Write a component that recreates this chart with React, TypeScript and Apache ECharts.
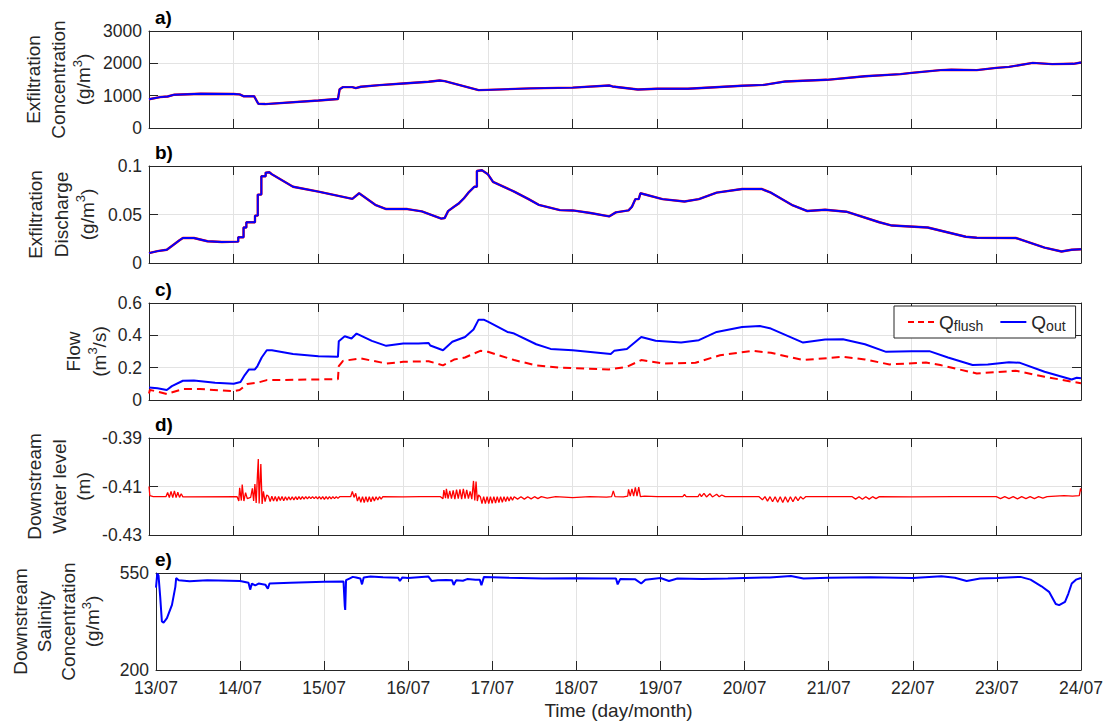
import React, { useEffect, useRef } from 'react';
import * as echarts from 'echarts';

// x = days since 13/07 00:00
const dayLabels = ['13/07', '14/07', '15/07', '16/07', '17/07', '18/07', '19/07', '20/07', '21/07', '22/07', '23/07', '24/07'];

const concData: [number, number][] = [
  [0, 890], [0.13, 955], [0.22, 975], [0.3, 1030], [0.61, 1060], [1.0, 1050], [1.07, 1040], [1.12, 980], [1.24, 985],
  [1.29, 750], [1.37, 740], [2.0, 850], [2.23, 895], [2.25, 1200], [2.29, 1265], [2.4, 1265], [2.44, 1235], [2.5, 1275],
  [2.72, 1325], [3.0, 1377], [3.3, 1430], [3.43, 1470], [3.49, 1450], [3.89, 1170], [4.0, 1180], [4.5, 1225], [5.0, 1250],
  [5.43, 1315], [5.47, 1285], [5.77, 1190], [6.0, 1212], [6.36, 1212], [7.0, 1305], [7.26, 1335], [7.51, 1440], [8.0, 1490],
  [8.45, 1600], [8.87, 1665], [9.0, 1705], [9.34, 1790], [9.47, 1800], [9.77, 1790], [10.0, 1860], [10.15, 1890],
  [10.43, 2015], [10.66, 1975], [10.91, 1985], [11.0, 2025],
];

const dischargeData: [number, number][] = [
  [0, 0.0102], [0.1, 0.0122], [0.21, 0.0136], [0.27, 0.0176], [0.36, 0.0234], [0.4, 0.0258], [0.53, 0.0258], [0.69, 0.0224],
  [0.86, 0.0217], [1.053, 0.022], [1.053, 0.0265], [1.116, 0.0265], [1.116, 0.0366], [1.149, 0.0366], [1.149, 0.042],
  [1.251, 0.042], [1.251, 0.0488], [1.284, 0.0488], [1.284, 0.0705], [1.326, 0.0705], [1.326, 0.0895], [1.377, 0.0895],
  [1.377, 0.0932], [1.42, 0.0935], [1.45, 0.0915], [1.7, 0.0786], [2.0, 0.0736], [2.4, 0.0661], [2.48, 0.0719], [2.67, 0.06],
  [2.8, 0.0556], [3.05, 0.0556], [3.22, 0.0532], [3.45, 0.0458], [3.49, 0.0464], [3.53, 0.0535], [3.6, 0.058], [3.66, 0.0617],
  [3.72, 0.067], [3.77, 0.0725], [3.84, 0.0786], [3.87, 0.0786], [3.87, 0.0949], [3.93, 0.0956], [4.0, 0.0915], [4.06, 0.0837],
  [4.31, 0.0736], [4.48, 0.0658], [4.6, 0.06], [4.85, 0.0545], [5.0, 0.0542], [5.21, 0.0515], [5.43, 0.048], [5.51, 0.0522],
  [5.66, 0.0542], [5.7, 0.058], [5.74, 0.0658], [5.78, 0.0658], [5.8, 0.0719], [6.06, 0.0658], [6.32, 0.0634], [6.49, 0.0658],
  [6.7, 0.0725], [7.0, 0.0763], [7.23, 0.0763], [7.34, 0.0725], [7.6, 0.0593], [7.77, 0.0536], [7.98, 0.0549], [8.23, 0.0529],
  [8.62, 0.042], [8.77, 0.0386], [9.19, 0.0366], [9.64, 0.0271], [9.77, 0.0261], [10.23, 0.0258], [10.57, 0.0159],
  [10.77, 0.0119], [10.89, 0.0136], [11, 0.0142],
];

const qFlushData: [number, number][] = [
  [0, 0.04], [0.01, 0.062], [0.05, 0.058], [0.21, 0.037], [0.4, 0.068], [0.6, 0.068], [1.0, 0.055], [1.07, 0.062], [1.16, 0.099],
  [1.28, 0.107], [1.39, 0.123], [2.0, 0.127], [2.23, 0.129], [2.24, 0.21], [2.29, 0.242], [2.5, 0.257], [2.8, 0.226], [3.0, 0.236],
  [3.3, 0.24], [3.47, 0.214], [3.6, 0.25], [3.73, 0.263], [3.91, 0.304], [4.0, 0.298], [4.31, 0.247], [4.57, 0.214], [4.85, 0.2],
  [5.0, 0.197], [5.43, 0.189], [5.64, 0.205], [5.81, 0.247], [6.06, 0.226], [6.45, 0.23], [6.74, 0.277], [7.13, 0.304],
  [7.34, 0.292], [7.72, 0.247], [8.19, 0.267], [8.45, 0.251], [8.74, 0.22], [9.17, 0.232], [9.34, 0.216], [9.77, 0.164],
  [10.23, 0.181], [10.57, 0.144], [11, 0.103],
];

const qOutData: [number, number][] = [
  [0, 0.078], [0.1, 0.072], [0.21, 0.062], [0.27, 0.086], [0.4, 0.119], [0.53, 0.121], [0.78, 0.107], [1.0, 0.101], [1.08, 0.111],
  [1.13, 0.154], [1.18, 0.189], [1.25, 0.189], [1.28, 0.21], [1.33, 0.263], [1.39, 0.308], [1.45, 0.308], [1.7, 0.284],
  [2.0, 0.271], [2.23, 0.267], [2.24, 0.364], [2.31, 0.394], [2.39, 0.38], [2.45, 0.411], [2.63, 0.366], [2.8, 0.335],
  [3.0, 0.349], [3.18, 0.349], [3.3, 0.353], [3.32, 0.337], [3.47, 0.308], [3.58, 0.36], [3.73, 0.39], [3.83, 0.436],
  [3.89, 0.497], [3.95, 0.497], [4.0, 0.485], [4.23, 0.421], [4.31, 0.411], [4.57, 0.345], [4.74, 0.316], [5.0, 0.308],
  [5.45, 0.284], [5.49, 0.304], [5.64, 0.316], [5.81, 0.39], [5.98, 0.366], [6.28, 0.355], [6.49, 0.37], [6.7, 0.421],
  [7.0, 0.452], [7.21, 0.458], [7.34, 0.442], [7.72, 0.355], [7.98, 0.374], [8.19, 0.376], [8.45, 0.345], [8.7, 0.298],
  [9.0, 0.302], [9.21, 0.302], [9.43, 0.263], [9.72, 0.216], [9.9, 0.22], [10.15, 0.234], [10.28, 0.23], [10.57, 0.175],
  [10.89, 0.127], [10.95, 0.138], [11, 0.134],
];

const levelData: [number, number][] = [
  [0, -0.41], [0.01, -0.4138], [0.05, -0.4142], [0.2, -0.4142],
  [0.22, -0.4125], [0.24, -0.4146], [0.26, -0.412], [0.28, -0.4146], [0.3, -0.4118], [0.32, -0.4146], [0.34, -0.4124],
  [0.36, -0.4145], [0.38, -0.413], [0.4, -0.4143],
  [1.04, -0.4142], [1.06, -0.416], [1.07, -0.4105], [1.09, -0.4158], [1.1, -0.4092], [1.12, -0.416], [1.14, -0.4125],
  [1.16, -0.415], [1.2, -0.4145], [1.22, -0.4108], [1.235, -0.416], [1.25, -0.409], [1.265, -0.4168], [1.28, -0.4053],
  [1.29, -0.3987], [1.3, -0.417], [1.32, -0.4007], [1.335, -0.4172], [1.35, -0.412], [1.37, -0.4162], [1.39, -0.4135],
  [1.41, -0.414], [1.43, -0.4162], [1.45, -0.414], [1.47, -0.416], [1.49, -0.4141], [1.51, -0.4161], [1.53, -0.4141],
  [1.55, -0.4158], [1.57, -0.4141], [1.59, -0.4159], [1.61, -0.4142], [1.63, -0.4157], [1.65, -0.4142], [1.67, -0.4156],
  [1.69, -0.4142], [1.71, -0.4155], [1.73, -0.4142], [1.75, -0.4154], [1.77, -0.4142], [1.79, -0.4153], [1.81, -0.4142],
  [1.83, -0.4152], [1.85, -0.4142], [1.87, -0.4151], [1.89, -0.4142], [1.91, -0.415], [1.93, -0.4142], [1.95, -0.415],
  [1.97, -0.4142], [1.99, -0.4151], [2.01, -0.4142], [2.03, -0.4152], [2.05, -0.4142], [2.07, -0.4153], [2.09, -0.4142],
  [2.11, -0.4152], [2.13, -0.4142], [2.15, -0.4151], [2.17, -0.4142], [2.19, -0.415], [2.21, -0.4142], [2.23, -0.4149],
  [2.25, -0.4142], [2.38, -0.4142], [2.4, -0.412], [2.42, -0.4145], [2.44, -0.4128], [2.46, -0.416], [2.48, -0.4142],
  [2.5, -0.4165], [2.52, -0.4142], [2.54, -0.4166], [2.56, -0.4142], [2.58, -0.4164], [2.6, -0.4142], [2.62, -0.4163],
  [2.64, -0.4142], [2.66, -0.416], [2.68, -0.4142], [2.7, -0.4156], [2.72, -0.4142], [2.74, -0.4152], [2.76, -0.4142],
  [3.0, -0.4143], [3.2, -0.4142], [3.44, -0.4142],
  [3.47, -0.415], [3.48, -0.4115], [3.5, -0.4148], [3.51, -0.411], [3.53, -0.415], [3.55, -0.4118], [3.57, -0.415],
  [3.59, -0.4116], [3.61, -0.4152], [3.63, -0.4113], [3.65, -0.415], [3.67, -0.4112], [3.69, -0.4152], [3.71, -0.411],
  [3.73, -0.415], [3.75, -0.4114], [3.77, -0.415], [3.79, -0.412], [3.81, -0.4152], [3.83, -0.4077], [3.845, -0.4158],
  [3.86, -0.408], [3.875, -0.416], [3.89, -0.4135],
  [3.91, -0.4142], [3.93, -0.417], [3.95, -0.4142], [3.97, -0.4171], [3.99, -0.4142], [4.01, -0.417], [4.03, -0.4142],
  [4.05, -0.4169], [4.07, -0.4142], [4.09, -0.4168], [4.11, -0.4142], [4.13, -0.4166], [4.15, -0.4142], [4.17, -0.4165],
  [4.19, -0.4142], [4.21, -0.4162], [4.23, -0.4142], [4.25, -0.416], [4.27, -0.4142], [4.29, -0.4157], [4.31, -0.4142],
  [4.35, -0.4152], [4.39, -0.4142], [4.43, -0.4152], [4.47, -0.4142], [4.51, -0.4151], [4.55, -0.4142], [4.59, -0.415],
  [4.63, -0.4142], [4.7, -0.4148], [4.8, -0.4142], [5.0, -0.4146], [5.2, -0.4142], [5.4, -0.4144],
  [5.46, -0.4142], [5.48, -0.4118], [5.5, -0.4142], [5.6, -0.4143], [5.65, -0.414], [5.66, -0.4112], [5.68, -0.414],
  [5.7, -0.411], [5.72, -0.414], [5.74, -0.4104], [5.76, -0.414], [5.78, -0.4103], [5.8, -0.4142], [5.85, -0.414],
  [6.0, -0.4142], [6.3, -0.4142], [6.32, -0.4133], [6.34, -0.4142],
  [6.48, -0.4142], [6.5, -0.413], [6.52, -0.4142], [6.55, -0.4128], [6.58, -0.4143], [6.62, -0.413], [6.65, -0.4143],
  [6.7, -0.4132], [6.73, -0.4142], [6.76, -0.4135], [6.8, -0.4142],
  [7.2, -0.4142], [7.24, -0.4155], [7.27, -0.4142], [7.3, -0.416], [7.33, -0.4142], [7.36, -0.4163], [7.39, -0.4142],
  [7.42, -0.4165], [7.45, -0.4142], [7.48, -0.4166], [7.51, -0.4142], [7.54, -0.4165], [7.57, -0.4142], [7.6, -0.4163],
  [7.63, -0.4142], [7.66, -0.4158], [7.69, -0.4142], [7.72, -0.4152], [7.75, -0.4142],
  [8.3, -0.4142], [8.34, -0.4152], [8.38, -0.4142], [8.42, -0.4153], [8.46, -0.4142], [8.5, -0.4152], [8.54, -0.4142],
  [8.58, -0.415], [8.62, -0.4142], [9.0, -0.4143], [9.5, -0.4142], [10.0, -0.4142],
  [10.05, -0.415], [10.1, -0.4142], [10.15, -0.415], [10.2, -0.4142], [10.25, -0.4151], [10.3, -0.4142], [10.35, -0.415],
  [10.4, -0.4142], [10.45, -0.415], [10.5, -0.4142], [10.55, -0.4148], [10.6, -0.4142], [10.7, -0.414], [10.8, -0.4138],
  [10.9, -0.414], [10.98, -0.4138], [10.995, -0.4108], [11, -0.412],
];

const salinityData: [number, number][] = [
  [0, 497], [0.015, 548], [0.03, 541], [0.05, 464], [0.07, 375], [0.09, 371], [0.13, 387], [0.19, 435], [0.23, 500], [0.24, 532],
  [0.27, 524], [0.4, 520], [0.61, 524], [1.0, 521], [1.1, 515], [1.12, 490], [1.14, 512], [1.18, 505], [1.22, 512], [1.3, 508],
  [1.33, 493], [1.35, 512], [1.6, 515], [2.0, 518], [2.23, 519], [2.245, 430], [2.25, 417], [2.26, 524], [2.3, 530],
  [2.34, 536], [2.38, 534], [2.43, 530], [2.45, 509], [2.47, 534], [2.55, 537], [2.7, 535], [2.88, 533], [2.9, 521],
  [2.93, 534], [3.0, 532], [3.24, 537], [3.28, 521], [3.35, 524], [3.45, 525], [3.52, 524], [3.54, 507], [3.57, 524],
  [3.65, 522], [3.7, 528], [3.8, 526], [3.85, 526], [3.87, 506], [3.9, 536], [4.2, 533], [4.6, 530], [5.0, 531], [5.3, 530],
  [5.47, 530], [5.49, 509], [5.52, 528], [5.7, 527], [5.77, 512], [5.82, 526], [6.0, 532], [6.1, 521], [6.2, 530],
  [6.5, 528], [6.8, 530], [7.0, 532], [7.3, 534], [7.55, 539], [7.7, 530], [8.0, 533], [8.5, 535], [9.0, 532], [9.34, 538],
  [9.5, 533], [9.64, 521], [9.8, 530], [10.0, 532], [10.28, 536], [10.4, 526], [10.53, 502], [10.62, 482], [10.7, 438],
  [10.74, 434], [10.81, 446], [10.85, 476], [10.89, 512], [10.94, 526], [11, 532],
];

const FONT = '"Liberation Sans", Arial, Helvetica, sans-serif';
const INK = '#262626';
const GRID_COLOR = '#e3e3e3';
const TOPS = [31, 166, 303, 438, 573];
const PANEL_H = 97;
const LEFT = 149;
const PLOT_W = 932;

const supStyle = { fontSize: 13, verticalAlign: 'top' as const, lineHeight: 12, fontFamily: FONT, color: INK };

const panels = [
  { letter: 'a)', min: 0, max: 3000, interval: 1000, name: 'Exfiltration\nConcentration\n(g/m{sup|3})', gap: 53, lh: 25 },
  { letter: 'b)', min: 0, max: 0.1, interval: 0.05, name: 'Exfiltration\nDischarge\n(g/m{sup|3})', gap: 49, lh: 26 },
  { letter: 'c)', min: 0, max: 0.6, interval: 0.2, name: 'Flow\n(m{sup|3}/s)', gap: 37, lh: 26 },
  { letter: 'd)', min: -0.43, max: -0.39, interval: 0.02, name: 'Downstream\nWater level\n(m)', gap: 53, lh: 24.5 },
  { letter: 'e)', min: 200, max: 550, interval: 350, name: 'Downstream\nSalinity\nConcentration\n(g/m{sup|3})', gap: 52, lh: 24 },
];

// legend line icons (solid and dashed), drawn as filled paths
const ICON_SOLID = 'path://M0,0h26v2h-26z';
const ICON_DASH = 'path://M0,0h6v2h-6z M10,0h6v2h-6z M20,0h6v2h-6z';

function buildOption() {
  const grid: any[] = [];
  const xAxis: any[] = [];
  const yAxis: any[] = [];
  const title: any[] = [];
  panels.forEach((p, i) => {
    grid.push({ left: LEFT, width: PLOT_W, top: TOPS[i], height: PANEL_H });
    title.push({
      text: p.letter, left: 155, top: TOPS[i] - 23, padding: 0,
      textStyle: { fontSize: 19, fontWeight: 'bold', fontFamily: FONT, color: '#000' },
    });
    const axisLine = { show: true, onZero: false, lineStyle: { color: INK, width: 1 } };
    const axisTick = { show: true, inside: true, length: 9, lineStyle: { color: INK, width: 1 } };
    xAxis.push({
      type: 'value', gridIndex: i, min: 0, max: 11, interval: 1, position: 'bottom',
      axisLine, axisTick,
      axisLabel: {
        show: i === 4, fontSize: 17.5, color: INK, fontFamily: FONT, margin: 9,
        formatter: (v: number) => dayLabels[Math.round(v)],
      },
      splitLine: { show: true, lineStyle: { color: GRID_COLOR, width: 1 } },
      name: i === 4 ? 'Time (day/month)' : '',
      nameLocation: 'middle', nameGap: 31, nameMoveOverlap: false,
      nameTextStyle: { fontSize: 19, color: INK, fontFamily: FONT },
    });
    xAxis.push({
      type: 'value', gridIndex: i, min: 0, max: 11, interval: 1, position: 'top',
      axisLine, axisTick, axisLabel: { show: false }, splitLine: { show: false },
    });
    yAxis.push({
      type: 'value', gridIndex: i, min: p.min, max: p.max, interval: p.interval, position: 'left',
      axisLine, axisTick,
      axisLabel: {
        fontSize: 17.5, color: INK, fontFamily: FONT, margin: 7,
        formatter: (v: number) => String(parseFloat(v.toFixed(4))),
      },
      splitLine: { show: true, lineStyle: { color: GRID_COLOR, width: 1 } },
      name: p.name, nameLocation: 'middle', nameGap: p.gap, nameMoveOverlap: false,
      nameTextStyle: { fontSize: 19, lineHeight: p.lh, color: INK, fontFamily: FONT, rich: { sup: supStyle } },
    });
    yAxis.push({
      type: 'value', gridIndex: i, min: p.min, max: p.max, interval: p.interval, position: 'right',
      axisLine, axisTick, axisLabel: { show: false }, splitLine: { show: false },
    });
  });

  const line = (idx: number, data: [number, number][], color: string, width: number, extra: any = {}) => ({
    type: 'line', xAxisIndex: idx * 2, yAxisIndex: idx * 2, data, symbol: 'none', showSymbol: false,
    lineStyle: { color, width }, itemStyle: { color }, silent: true, ...extra,
  });

  const series = [
    line(0, concData, '#ff0000', 2.4),
    line(0, concData, '#0000ff', 1.9),
    line(1, dischargeData, '#ff0000', 2.4),
    line(1, dischargeData, '#0000ff', 1.9),
    line(2, qFlushData, '#ff0000', 2, { name: 'Qflush', lineStyle: { color: '#ff0000', width: 2, type: [8, 5] } }),
    line(2, qOutData, '#0000ff', 2, { name: 'Qout' }),
    line(3, levelData, '#ff0000', 1.3),
    line(4, salinityData, '#0000ff', 2),
  ];

  return {
    animation: false,
    backgroundColor: '#ffffff',
    title,
    grid,
    xAxis,
    yAxis,
    legend: {
      data: [
        { name: 'Qflush', icon: ICON_DASH, itemStyle: { color: '#ff0000' } },
        { name: 'Qout', icon: ICON_SOLID, itemStyle: { color: '#0000ff' } },
      ],
      left: 894, top: 306,
      orient: 'horizontal',
      itemWidth: 26, itemHeight: 2, itemGap: 17,
      padding: [5, 10, 5, 14],
      borderColor: INK, borderWidth: 1, backgroundColor: '#ffffff',
      formatter: (n: string) => (n === 'Qflush' ? 'Q{sub|flush}' : 'Q{sub|out}'),
      textStyle: {
        fontSize: 19, color: INK, fontFamily: FONT, lineHeight: 22,
        rich: { sub: { fontSize: 14, verticalAlign: 'bottom', lineHeight: 10, fontFamily: FONT, color: INK } },
      },
    },
    series,
  };
}

export default function App() {
  const ref = useRef<HTMLDivElement>(null);
  useEffect(() => {
    document.body.style.margin = '0';
    const chart = echarts.init(ref.current as HTMLDivElement, null, { renderer: 'svg' });
    chart.setOption(buildOption() as any);
    return () => chart.dispose();
  }, []);
  return <div ref={ref} style={{ width: 1106, height: 724 }} />;
}
